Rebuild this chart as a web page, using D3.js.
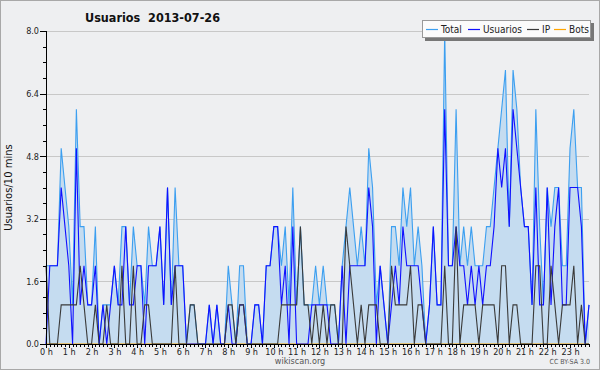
<!DOCTYPE html>
<html>
<head>
<meta charset="utf-8">
<script src="https://cdn.jsdelivr.net/npm/d3@7"></script>
<style>
  body { margin: 0; background: #fff; }
  svg { display: block; }
  .axis path, .axis line { stroke: #000; shape-rendering: crispEdges; }
  .axis text { font-family: "DejaVu Sans Condensed", "DejaVu Sans", sans-serif; font-size: 9px; fill: #222; }
</style>
</head>
<body>
<div id="chart"></div>
<script>
// 10-minute slots, 144 per day
const hourLabels = ["0 h","1 h","2 h","3 h","4 h","5 h","6 h","7 h","8 h","9 h","10 h","11 h",
  "12 h","13 h","14 h","15 h","16 h","17 h","18 h","19 h","20 h","21 h","22 h","23 h"];
const yTicks = [0, 1.6, 3.2, 4.8, 6.4, 8.0];

const total = [2,2,2,2,5,4,3,1,6,3,3,1,1,3,0,1,1,1,2,1,3,3,1,3,2,2,1,3,2,2,3,1,4,1,4,2,2,0,1,1,
  0,0,0,1,0,1,0,0,2,1,0,2,2,0,0,1,1,0,2,2,3,3,2,3,1,4,1,3,1,1,1,2,1,2,1,1,1,0,2,3,
  4,3,2,3,2,5,4,1,2,1,0,3,3,2,4,3,4,2,3,2,0,1,3,1,1,8,2,2,6,2,3,2,3,2,2,2,3,3,4,5,
  6,7,3,7,6,4,3,3,1,6,3,1,4,3,4,4,2,2,5,6,4,4,0,1];
const usuarios = [0,2,2,2,4,3,2,0,5,1,2,1,1,2,0,1,0,1,2,1,1,3,1,1,2,2,0,2,2,2,3,1,4,1,2,2,2,0,0,0,
  0,0,0,1,0,1,0,0,1,0,0,1,1,0,0,1,1,0,2,2,3,3,1,2,0,3,0,0,0,0,1,1,1,1,1,0,0,0,2,0,
  2,2,2,2,2,4,3,0,2,1,0,1,2,1,3,2,2,2,2,1,0,1,3,1,1,6,2,2,3,2,2,1,2,1,2,1,2,2,3,5,
  4,5,3,6,5,4,3,3,1,4,1,1,4,1,3,4,1,1,4,4,4,3,0,1];
const ip = [2,0,0,0,1,1,1,1,1,2,1,0,0,1,0,0,1,0,0,0,2,0,0,2,0,0,1,1,0,0,0,0,0,0,2,0,0,0,1,1,
  0,0,0,0,0,0,0,0,1,1,0,1,1,0,0,0,0,0,0,0,0,0,1,1,1,1,1,3,1,1,0,1,0,1,0,1,1,0,0,3,
  2,1,0,1,0,1,1,1,0,0,0,2,1,1,1,1,2,0,1,1,0,0,0,0,0,2,0,0,3,0,1,1,1,1,0,1,1,1,1,0,
  2,2,0,1,1,0,0,0,0,2,2,0,0,2,1,0,1,1,1,2,0,1,0,0];
const bots = new Array(144).fill(0);

const W = 600, H = 370;
const mLeft = 46, mRight = 589, mTop = 31, mBottom = 344;

const svg = d3.select('#chart').append('svg')
  .attr('width', W)
  .attr('height', H);

svg.append('rect')
  .attr('x', 0.5).attr('y', 0.5)
  .attr('width', W - 1).attr('height', H - 1)
  .attr('fill', '#eeeff1')
  .attr('stroke', '#a8a8a8');

const x = d3.scaleLinear().domain([0, 143]).range([mLeft, mRight]);
const y = d3.scaleLinear().domain([0, 8]).range([mBottom, mTop]);

// grid
svg.append('g')
  .selectAll('line')
  .data(yTicks)
  .enter()
  .append('line')
  .attr('x1', mLeft).attr('x2', mRight)
  .attr('y1', d => Math.round(y(d)) + 0.5)
  .attr('y2', d => Math.round(y(d)) + 0.5)
  .attr('stroke', '#c8c8c8');

const idx = d3.range(total.length);

const area = d3.area()
  .x(i => x(i))
  .y0(y(0))
  .y1(i => y(total[i]));

svg.append('path')
  .datum(idx)
  .attr('d', area)
  .attr('fill', '#c5dcf0');

const series = [
  { name: 'Bots', values: bots, color: '#ffa500' },
  { name: 'Total', values: total, color: '#3c9ff0' },
  { name: 'Usuarios', values: usuarios, color: '#1010ff' },
  { name: 'IP', values: ip, color: '#3a3a3a' }
];

series.forEach(s => {
  const line = d3.line()
    .x(i => x(i))
    .y(i => y(s.values[i]));
  svg.append('path')
    .datum(idx)
    .attr('d', line)
    .attr('fill', 'none')
    .attr('stroke', s.color)
    .attr('stroke-width', 1.1);
});

// axes
const yMinor = d3.range(0, 8.01, 0.4);
svg.append('g')
  .attr('class', 'axis')
  .attr('transform', `translate(${mLeft},0)`)
  .call(d3.axisLeft(y).tickValues(yMinor).tickSize(3).tickFormat(''))
  .select('.domain').remove();

svg.append('g')
  .attr('class', 'axis')
  .attr('transform', `translate(${mLeft},0)`)
  .call(d3.axisLeft(y).tickValues(yTicks).tickSize(6).tickPadding(1).tickFormat(d3.format('.1f')))
  .call(g => g.select('.domain').attr('d', `M0.5,${mTop}V${mBottom}`));

svg.append('g')
  .attr('class', 'axis')
  .attr('transform', `translate(0,${mBottom})`)
  .call(d3.axisBottom(x).tickValues(idx).tickSize(3).tickFormat(''))
  .select('.domain').remove();

svg.append('g')
  .attr('class', 'axis')
  .attr('transform', `translate(0,${mBottom})`)
  .call(d3.axisBottom(x).tickValues(hourLabels.map((h, k) => k * 6)).tickSize(4).tickPadding(1)
    .tickFormat((d, k) => hourLabels[k]))
  .call(g => g.select('.domain').attr('d', `M${mLeft},0.5H${mRight}`));

// texts
svg.append('text')
  .attr('x', 85).attr('y', 22)
  .attr('font-family', '"DejaVu Sans Condensed", "DejaVu Sans", sans-serif')
  .attr('font-weight', 'bold')
  .attr('font-size', 12.5)
  .attr('fill', '#111')
  .attr('xml:space', 'preserve')
  .text('Usuarios  2013-07-26');

svg.append('text')
  .attr('transform', `translate(12,${(mTop + mBottom) / 2}) rotate(-90)`)
  .attr('text-anchor', 'middle')
  .attr('font-family', '"DejaVu Sans", sans-serif')
  .attr('font-size', 10)
  .attr('fill', '#111')
  .text('Usuarios/10 mins');

svg.append('text')
  .attr('x', 300).attr('y', 364)
  .attr('text-anchor', 'middle')
  .attr('font-family', '"DejaVu Sans Condensed", "DejaVu Sans", sans-serif')
  .attr('font-size', 9)
  .attr('fill', '#555')
  .text('wikiscan.org');

svg.append('text')
  .attr('x', 590).attr('y', 364)
  .attr('text-anchor', 'end')
  .attr('font-family', '"DejaVu Sans Condensed", "DejaVu Sans", sans-serif')
  .attr('font-size', 7)
  .attr('fill', '#555')
  .text('CC BY-SA 3.0');

// legend
const legend = svg.append('g');
legend.append('rect')
  .attr('x', 425).attr('y', 23).attr('width', 169).attr('height', 18)
  .attr('fill', '#777');
legend.append('rect')
  .attr('x', 422.5).attr('y', 20.5).attr('width', 168).attr('height', 17)
  .attr('fill', '#fbfbfb')
  .attr('stroke', '#999');

const legendItems = [
  { name: 'Total', color: '#3c9ff0', x: 426 },
  { name: 'Usuarios', color: '#1010ff', x: 468 },
  { name: 'IP', color: '#3a3a3a', x: 527 },
  { name: 'Bots', color: '#ffa500', x: 554 }
];
legendItems.forEach(d => {
  legend.append('line')
    .attr('x1', d.x).attr('x2', d.x + 12)
    .attr('y1', 29.5).attr('y2', 29.5)
    .attr('stroke', d.color)
    .attr('stroke-width', 1.2);
  legend.append('text')
    .attr('x', d.x + 15).attr('y', 33)
    .attr('font-family', '"DejaVu Sans Condensed", "DejaVu Sans", sans-serif')
    .attr('font-size', 10)
    .attr('fill', '#222')
    .text(d.name);
});
</script>
</body>
</html>
